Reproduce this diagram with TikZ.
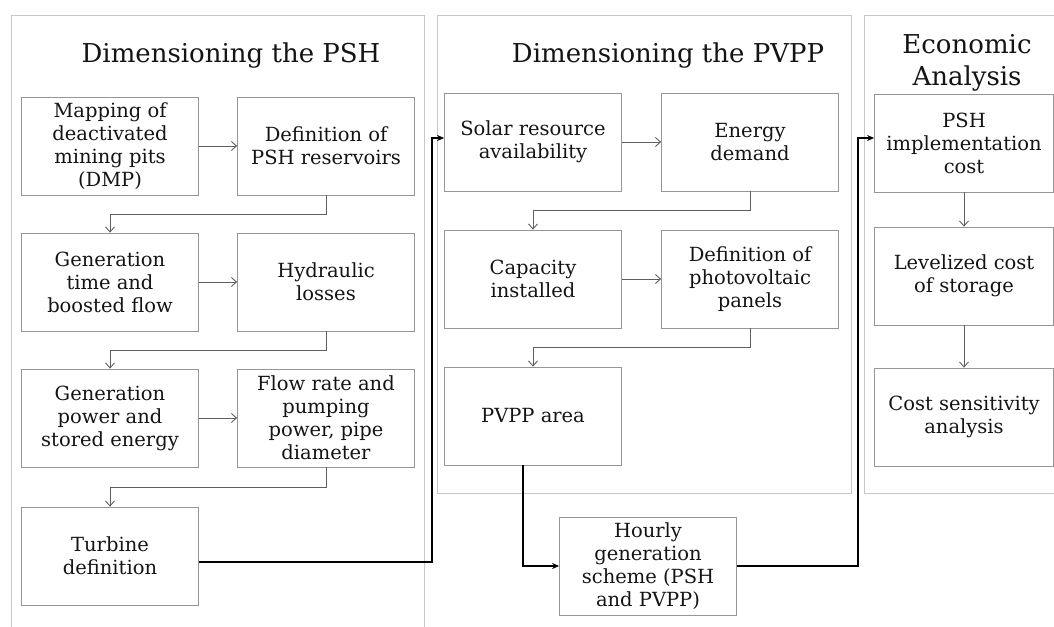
\documentclass[tikz,border=0pt]{standalone}
\usepackage{fontspec}
\setmainfont{DejaVu Serif}
\usetikzlibrary{arrows.meta}
\definecolor{boxgray}{RGB}{150,150,150}
\definecolor{panelgray}{RGB}{200,200,200}
\definecolor{linegray}{RGB}{95,95,95}
\definecolor{textblack}{RGB}{20,20,20}
\begin{document}
\begin{tikzpicture}[x=1pt, y=-1pt,
    stepbox/.style={draw=boxgray, line width=0.8pt, minimum width=177pt, minimum height=98pt,
        inner sep=1pt, align=center, text=textblack, font=\fontsize{19.5}{23}\selectfont},
    title/.style={align=center, text=textblack, font=\fontsize{26}{32}\selectfont},
    panel/.style={draw=panelgray, line width=0.8pt},
    garrow/.style={draw=linegray, line width=0.9pt, -{Straight Barb[length=5pt,width=9pt]}},
    barrow/.style={draw=black, line width=1.8pt, -{Stealth[length=7pt,width=6pt]}}]
            \useasboundingbox (0,0) rectangle (1054,626);
            \clip (0,0) rectangle (1054,626);

            % 三个区域
            \draw[panel] (11,15) rectangle (424,640);
            \draw[panel] (437,15) rectangle (851,493);
            \draw[panel] (864,15) rectangle (1062,493);

            % 标题
            \node[title] (T1) at (231,56) {Dimensioning the PSH};
            \node[title] (T2) at (668,56) {Dimensioning the PVPP};
            \node[title] (T3) at (967,63) {Economic\\Analysis};

            % PSH 节点
            \node[stepbox] (A1) at (110,146) {Mapping of\\deactivated\\mining pits\\(DMP)};
            \node[stepbox] (A2) at (326,146) {Definition of\\PSH reservoirs};
            \node[stepbox] (B1) at (110,282) {Generation\\time and\\boosted flow};
            \node[stepbox] (B2) at (326,282) {Hydraulic\\losses};
            \node[stepbox] (C1) at (110,418) {Generation\\power and\\stored energy};
            \node[stepbox] (C2) at (326,418) {Flow rate and\\pumping\\power, pipe\\diameter};
            \node[stepbox] (D1) at (110,556) {Turbine\\definition};

            % PVPP 节点
            \node[stepbox] (P1) at (533,142) {Solar resource\\availability};
            \node[stepbox] (P2) at (750,142) {Energy\\demand};
            \node[stepbox] (Q1) at (533,279) {Capacity\\installed};
            \node[stepbox] (Q2) at (750,279) {Definition of\\photovoltaic\\panels};
            \node[stepbox] (R1) at (533,416) {PVPP area};
            \node[stepbox] (H) at (648,566) {Hourly\\generation\\scheme (PSH\\and PVPP)};

            % 经济分析节点
            \node[stepbox, minimum width=179pt] (E1) at (964,143) {PSH\\implementation\\cost};
            \node[stepbox, minimum width=179pt] (E2) at (964,276) {Levelized cost\\of storage};
            \node[stepbox, minimum width=179pt] (E3) at (964,417) {Cost sensitivity\\analysis};

            % 区域内的箭头
            \draw[garrow] (A1) -- (A2);
            \draw[garrow] (A2.south) -- ++(0,19) -| (B1.north);
            \draw[garrow] (B1) -- (B2);
            \draw[garrow] (B2.south) -- ++(0,19) -| (C1.north);
            \draw[garrow] (C1) -- (C2);
            \draw[garrow] (C2.south) -- ++(0,20) -| (D1.north);
            \draw[garrow] (P1) -- (P2);
            \draw[garrow] (P2.south) -- ++(0,19) -| (Q1.north);
            \draw[garrow] (Q1) -- (Q2);
            \draw[garrow] (Q2.south) -- ++(0,19) -| (R1.north);
            \draw[garrow] (E1) -- (E2);
            \draw[garrow] (E2) -- (E3);

            % 区域之间的粗箭头
            \draw[barrow] ([yshift=-6pt]D1.east) -- ++(233,0) |- ([yshift=4pt]P1.west);
            \draw[barrow] ([xshift=-10pt]R1.south) |- (H.west);
            \draw[barrow] (H.east) -- ++(121,0) |- ([yshift=5pt]E1.west);
        \end{tikzpicture}
\end{document}
